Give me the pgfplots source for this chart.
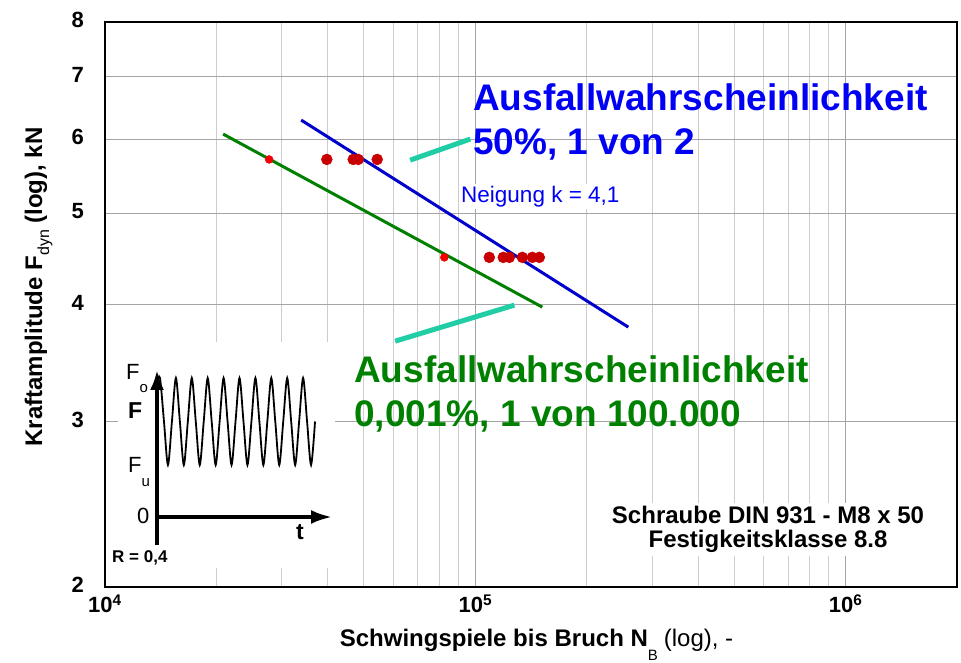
\documentclass[border=0pt]{standalone}
\usepackage{pgfplots}
\pgfplotsset{compat=1.18}
\usepackage{fontspec}
\setmainfont{Liberation Sans}
\usetikzlibrary{arrows.meta}
\definecolor{gridmin}{RGB}{205,205,205}
\definecolor{gridmaj}{RGB}{165,165,165}
\definecolor{bline}{RGB}{0,0,205}
\definecolor{gline}{RGB}{0,128,0}
\definecolor{btext}{RGB}{0,0,245}
\definecolor{gtext}{RGB}{0,128,0}
\definecolor{callout}{RGB}{32,205,165}
\definecolor{dred}{RGB}{200,0,0}
\definecolor{bred}{RGB}{245,0,0}
\begin{document}
\begin{tikzpicture}
\begin{axis}[
  scale only axis, width=852pt, height=565pt,
  at={(0pt,0pt)}, anchor=south west,
  xmode=log, ymode=log,
  xmin=1e4, xmax=2e6, ymin=2, ymax=8,
  xtick={1e4,1e5,1e6},
  xticklabels={10\textsuperscript{4},10\textsuperscript{5},10\textsuperscript{6}},
  minor xtick={2e4,3e4,4e4,5e4,6e4,7e4,8e4,9e4,2e5,3e5,4e5,5e5,6e5,7e5,8e5,9e5},
  ytick={2,3,4,5,6,7,8},
  yticklabels={2,3,4,5,6,7,8},
  xmajorgrids, xminorgrids, ymajorgrids,
  major grid style={gridmaj, line width=0.9pt},
  minor grid style={gridmin, line width=0.9pt},
  major tick length=0pt, minor tick length=0pt,
  axis line style={line width=1.8pt},
  /pgf/number format/assume math mode=true,
  xticklabel style={font=\fontsize{22}{26}\selectfont\bfseries, anchor=base, yshift=-26pt},
  yticklabel style={font=\fontsize{22}{26}\selectfont\bfseries, anchor=east, inner sep=0pt, xshift=-21pt, yshift=2pt},
  xlabel={Schwingspiele bis Bruch N\raisebox{-14pt}{\fontsize{15}{15}\selectfont\mdseries B}\hspace{6pt}{\mdseries (log), -}},
  xlabel style={font=\fontsize{24}{28}\selectfont\bfseries, at={(axis description cs:0.5065,-0.1062)}, anchor=base},
  ylabel={Kraftamplitude F\raisebox{-7pt}{\fontsize{16}{16}\selectfont\mdseries dyn} (log), kN},
  ylabel style={font=\fontsize{24}{28}\selectfont\bfseries, at={(axis description cs:-0.0739,0.531)}, anchor=base, rotate=0},
  clip=false,
]
% callout lines
\addplot[callout, line width=5pt] coordinates {(66700,5.70) (96940,6.003)};
\addplot[callout, line width=5pt] coordinates {(60770,3.656) (127500,3.994)};
% fitted lines
\addplot[bline, line width=3pt] coordinates {(33870,6.289) (259000,3.784)};
\addplot[gline, line width=3pt] coordinates {(20840,6.077) (151700,3.975)};
% test points
\addplot[only marks, mark=*, mark size=5.5pt, dred, mark options={draw=dred, fill=dred}] coordinates {
 (39730,5.71) (46800,5.71) (48290,5.71) (54340,5.71)
 (109100,4.49) (119000,4.49) (123600,4.49) (134000,4.49) (142600,4.49) (148900,4.49)};
\addplot[only marks, mark=*, mark size=4pt, bred, mark options={draw=bred, fill=bred}] coordinates {
 (27750,5.71) (82480,4.49)};
% texts
\node[anchor=base west, inner sep=0pt, text=btext, font=\fontsize{37}{44}\selectfont\bfseries] at (rel axis cs:0.4319,0.8442) {Ausfallwahrscheinlichkeit};
\node[anchor=base west, inner sep=0pt, text=btext, font=\fontsize{37}{44}\selectfont\bfseries] at (rel axis cs:0.4319,0.7646) {50\%, 1 von 2};
\node[anchor=base west, inner sep=0pt, text=gtext, font=\fontsize{37}{44}\selectfont\bfseries] at (rel axis cs:0.2923,0.3628) {Ausfallwahrscheinlichkeit};
\node[anchor=base west, inner sep=0pt, text=gtext, font=\fontsize{37}{44}\selectfont\bfseries] at (rel axis cs:0.2923,0.2832) {0,001\%, 1 von 100.000};
\node[anchor=base west, inner sep=2pt, fill=white, text=btext, font=\fontsize{22.5}{26}\selectfont] at (rel axis cs:0.4155,0.6814) {Neigung k = 4,1};
\node[anchor=center, inner sep=3pt, fill=white, align=center, font=\fontsize{24}{24}\selectfont\bfseries] at (rel axis cs:0.7782,0.1014) {Schraube DIN 931 - M8 x 50\\Festigkeitsklasse 8.8};
\end{axis}
% inset: load signal schematic
\begin{axis}[
  at={(52pt,44pt)}, anchor=south west,
  scale only axis, width=175pt, height=173pt,
  xmin=0, xmax=175, ymin=0, ymax=173,
  hide axis, clip=false,
]
\fill[white] (axis cs:-39,-25) rectangle (axis cs:178,201);
\addplot[black, line width=3.5pt, -{Latex[length=20pt,width=14pt]}] coordinates {(0,-2) (0,173)};
\addplot[black, line width=3.5pt, -{Latex[length=21pt,width=14pt]}] coordinates {(0,26) (175,26)};
\addplot[black, line width=1.8pt, smooth] coordinates {
 (0,160) (3.0,165) (6.98,121.5) (10.95,78) (14.93,121.5) (18.9,165) (22.88,121.5) (26.85,78) (30.83,121.5)
 (34.8,165) (38.78,121.5) (42.75,78) (46.73,121.5) (50.7,165) (54.68,121.5) (58.65,78) (62.63,121.5)
 (66.6,165) (70.58,121.5) (74.55,78) (78.53,121.5) (82.5,165) (86.48,121.5) (90.45,78) (94.43,121.5)
 (98.4,165) (102.38,121.5) (106.35,78) (110.33,121.5) (114.3,165) (118.28,121.5) (122.25,78) (126.23,121.5)
 (130.2,165) (134.18,121.5) (138.15,78) (142.13,121.5) (146.1,165) (150.08,121.5) (154.05,78) (158.03,121.5)};
\node[anchor=base west, inner sep=0pt, font=\fontsize{22}{26}\selectfont] at (axis cs:-31,163) {F\raisebox{-13pt}{\fontsize{15}{15}\selectfont o}};
\node[anchor=base west, inner sep=0pt, font=\fontsize{23}{26}\selectfont\bfseries] at (axis cs:-29,124) {F};
\node[anchor=base west, inner sep=0pt, font=\fontsize{22}{26}\selectfont] at (axis cs:-29,70) {F\raisebox{-14pt}{\fontsize{15}{15}\selectfont u}};
\node[anchor=base west, inner sep=0pt, font=\fontsize{22}{26}\selectfont] at (axis cs:-20,19) {0};
\node[anchor=base west, inner sep=0pt, font=\fontsize{23}{26}\selectfont\bfseries] at (axis cs:139,3) {t};
\node[anchor=base west, inner sep=0pt, font=\fontsize{17}{20}\selectfont\bfseries] at (axis cs:-45,-20) {R = 0,4};
\end{axis}
\pgfresetboundingbox
\useasboundingbox (-105pt,-76pt) rectangle (856pt,587pt);
\end{tikzpicture}
\end{document}
